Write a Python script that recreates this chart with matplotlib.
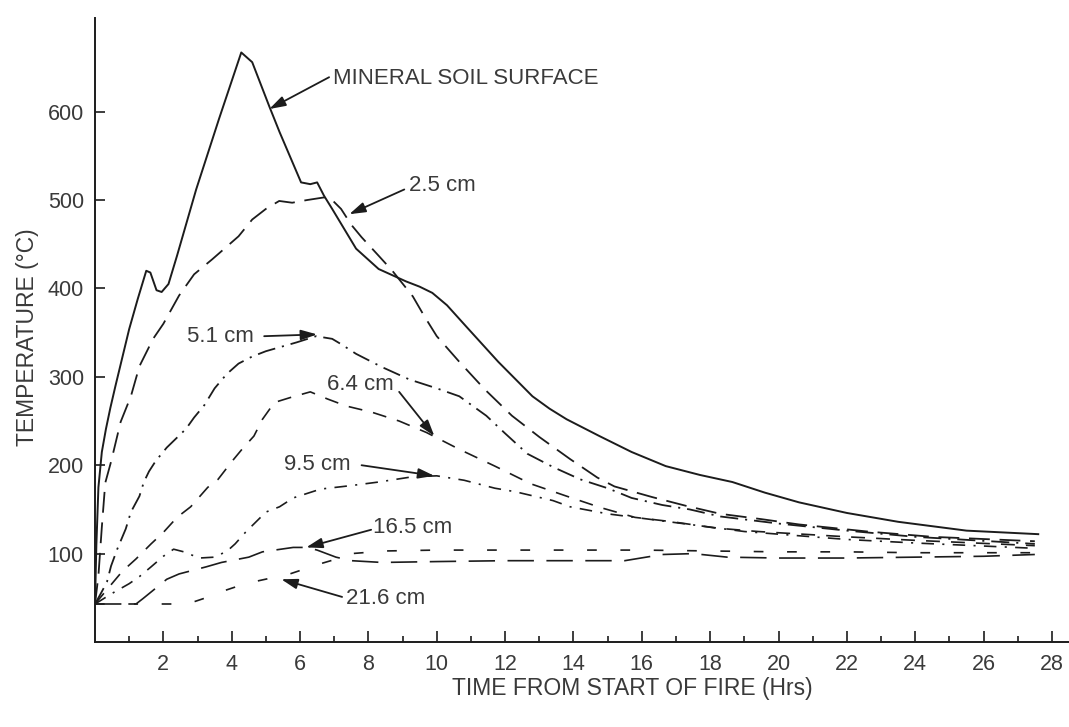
import matplotlib
matplotlib.use("Agg")
from matplotlib import pyplot, ticker

# soil temperature under a burning slash pile, by depth
surface_t = [0.0, 0.04, 0.1, 0.2, 0.32, 0.45, 0.6, 0.8, 1.0, 1.25, 1.5, 1.62, 1.8, 1.95,
             2.15, 2.4, 2.96, 3.63, 4.28, 4.6, 5.1, 5.4, 6.03, 6.3, 6.5, 6.7, 6.94, 7.64,
             8.3, 9.1, 9.5, 9.87, 10.3, 10.86, 11.8, 12.8, 13.3, 13.8, 14.76, 15.7, 16.7,
             17.7, 18.65, 19.6, 20.6, 22.0, 23.5, 25.5, 27.6]
surface_T = [43, 110, 175, 215, 241, 265, 290, 322, 354, 388, 420, 418, 398, 396,
             405, 437, 512, 592, 667, 656, 606, 577, 520, 518, 520, 505, 490, 445,
             422, 408, 402, 395, 381, 357, 317, 278, 264, 252, 233, 215, 199,
             189, 181, 169, 158, 146, 136, 126, 122]

d25_t = [0.0, 0.1, 0.2, 0.3, 0.47, 0.75, 1.05, 1.3, 1.7, 2.0, 2.46, 2.9, 3.43, 4.2, 4.6,
         5.0, 5.39, 5.77, 6.2, 6.7, 6.94, 7.2, 7.5, 7.8, 8.3, 8.7, 9.3, 9.63, 10.0, 10.66,
         11.4, 12.2, 13.0, 13.9, 14.7, 15.2, 16.3, 17.3, 18.3, 19.5, 20.6, 22.6, 24.5, 27.5]
d25_T = [43, 75, 130, 180, 204, 249, 278, 312, 343, 360, 392, 416, 433, 459, 478,
         490, 499, 497, 500, 503, 500, 490, 472, 458, 437, 420, 391, 369, 346, 317,
         286, 256, 232, 207, 186, 176, 164, 154, 145, 139, 133, 125, 119, 114]

d51_t = [0.0, 0.2, 0.35, 0.47, 0.65, 0.9, 1.05, 1.3, 1.43, 1.58, 1.78, 2.1, 2.66, 2.9,
         3.2, 3.5, 3.85, 4.2, 4.6, 5.0, 5.45, 5.9, 6.47, 6.94, 7.2, 7.64, 8.4, 9.2, 10.0,
         10.66, 11.45, 12.0, 12.65, 13.4, 14.2, 15.0, 15.7, 16.6, 17.4, 18.3, 20.0, 22.0,
         24.0, 27.5]
d51_T = [43, 57, 68, 86, 105, 128, 147, 165, 181, 193, 205, 220, 241, 254,
         268, 287, 303, 315, 323, 329, 334, 339, 346, 343, 337, 326, 311, 297, 287,
         278, 256, 236, 213, 198, 184, 174, 163, 155, 150, 142, 134, 126,
         119, 111]

d64_t = [0.0, 0.3, 0.8, 1.2, 1.64, 2.0, 2.4, 2.8, 3.3, 3.6, 4.0, 4.3, 4.65, 4.9, 5.25,
         5.75, 6.3, 6.8, 7.35, 8.1, 8.9, 9.7, 10.66, 11.7, 12.75, 13.8, 14.8, 15.8,
         16.9, 18.15, 19.4, 22.0, 24.0, 27.5]
d64_T = [43, 57, 80, 94, 111, 124, 141, 153, 175, 184, 204, 218, 233, 252, 271,
         277, 283, 275, 267, 260, 250, 237, 218, 199, 179, 165, 152, 141,
         136, 129, 125, 119, 115, 109]

d95_t = [0.0, 0.5, 1.0, 1.3, 1.64, 2.0, 2.3, 2.6, 3.05, 3.5, 3.87, 4.1, 4.4, 5.0, 5.4,
         5.8, 6.6, 7.5, 8.3, 9.3, 10.0, 10.8, 11.7, 12.3, 13.4, 13.9, 15.0, 17.0, 19.0,
         22.0, 24.0, 27.5]
d95_T = [43, 55, 66, 74, 85, 97, 105, 102, 95, 96, 103, 111, 124, 147, 153,
         163, 173, 177, 181, 187, 188, 183, 174, 170, 160, 153, 145, 135, 125,
         116, 112, 106]

d165_t = [0.0, 1.2, 1.4, 1.75, 2.1, 2.46, 3.25, 3.7, 4.5, 4.9, 5.8, 6.2, 6.5, 7.05, 7.5,
          8.4, 10.0, 12.0, 14.0, 15.5, 16.6, 17.5, 18.5, 20.0, 22.0, 24.0, 26.0, 27.5]
d165_T = [43, 43, 49, 60, 71, 77, 85, 90, 96, 102, 107, 107, 104, 96, 92,
          90, 91, 92, 92, 92, 99, 100, 96, 95, 95, 96, 97, 99]

d216_t = [0.0, 2.7, 3.4, 3.7, 4.4, 4.75, 5.7, 6.55, 6.9, 7.5, 8.5, 10.0, 12.0, 14.0,
          16.0, 18.0, 20.0, 22.0, 24.0, 26.0, 27.5]
d216_T = [43, 43, 52, 57, 66, 69, 77, 88, 92, 100, 103, 104, 104, 104,
          104, 103, 102, 102, 101, 101, 101]

# label text, text anchor (left, centre) and arrow start/end in data units
labels = ["MINERAL SOIL SURFACE", "2.5 cm", "5.1 cm", "6.4 cm", "9.5 cm", "16.5 cm", "21.6 cm"]
label_xy = [(6.95, 637), (9.2, 516), (2.69, 346), (6.8, 291), (5.53, 201), (8.14, 130), (7.35, 49)]
arrow_from = [(6.85, 639), (9.05, 512), (4.95, 346), (8.9, 283), (7.8, 200), (8.08, 127), (7.23, 51)]
arrow_to = [(5.1, 603), (7.44, 484), (6.5, 348), (9.93, 233), (9.93, 188), (6.18, 107), (5.45, 71)]

pyplot.rcParams["font.family"] = ["Liberation Sans", "DejaVu Sans"]
pyplot.rcParams["lines.scale_dashes"] = False

ink = "#1c1c1c"
text_ink = "#3a3a3a"

figure = pyplot.figure(figsize=(10.69, 7.27), dpi=100)
axis = figure.add_axes([95 / 1069, 85 / 727, (1069 - 95) / 1069, (642 - 18) / 727])

axis.plot(surface_t, surface_T, color=ink, lw=1.4, solid_joinstyle="round")
axis.plot(d25_t, d25_T, color=ink, lw=1.3, linestyle=(0, (15, 7)))
axis.plot(d51_t, d51_T, color=ink, lw=1.3, linestyle=(0, (13, 5, 1.5, 5)))
axis.plot(d64_t, d64_T, color=ink, lw=1.2, linestyle=(0, (10, 8)))
axis.plot(d95_t, d95_T, color=ink, lw=1.2, linestyle=(0, (9, 6, 1.5, 6)))
axis.plot(d165_t, d165_T, color=ink, lw=1.2, linestyle=(0, (19, 9)))
axis.plot(d216_t, d216_T, color=ink, lw=1.2, linestyle=(0, (7, 17)))

for text, xy, start, end in zip(labels, label_xy, arrow_from, arrow_to):
    axis.text(xy[0], xy[1], text, ha="left", va="center", fontsize=16, color=text_ink)
    axis.annotate("", xy=end, xytext=start,
                  arrowprops=dict(arrowstyle="-|>,head_length=0.7,head_width=0.22",
                                  mutation_scale=14, color=ink, lw=1.3,
                                  shrinkA=0, shrinkB=0))

axis.set_xlim(0, 28.5)
axis.set_ylim(0, 706)
axis.xaxis.set_major_locator(ticker.FixedLocator(range(2, 29, 2)))
axis.xaxis.set_minor_locator(ticker.FixedLocator(range(1, 29, 2)))
axis.yaxis.set_major_locator(ticker.FixedLocator(range(100, 601, 100)))
axis.tick_params(axis="both", which="both", direction="in", color=ink, width=1.2,
                 labelsize=15.5, labelcolor=text_ink)
axis.tick_params(axis="x", which="major", length=8, pad=9)
axis.tick_params(axis="x", which="minor", length=4)
axis.tick_params(axis="y", which="major", length=7, pad=8)
for side in ("top", "right"):
    axis.spines[side].set_visible(False)
for side in ("left", "bottom"):
    axis.spines[side].set_color(ink)
    axis.spines[side].set_linewidth(1.4)

figure.text(632 / 1069, 1 - 688 / 727, "TIME FROM START OF FIRE (Hrs)",
            ha="center", va="center", fontsize=16.5, color=text_ink)
figure.text(28 / 1069, 1 - 337 / 727, "TEMPERATURE (\u00b0C)", rotation=90,
            ha="center", va="center", fontsize=16.5, color=text_ink)

figure.savefig("out.png", dpi=100)
